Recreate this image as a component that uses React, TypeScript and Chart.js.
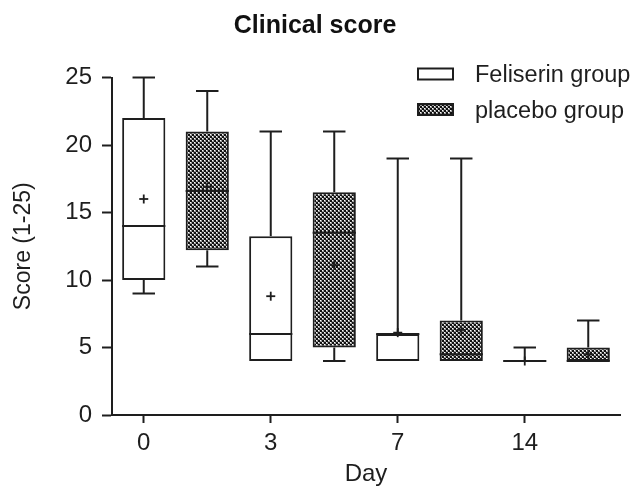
import React, { useEffect, useRef } from 'react';
import { Chart, registerables } from 'chart.js';

Chart.register(...registerables);

// ---- data ----
const days = ['0', '3', '7', '14'];
const groupNames = ['Feliserin group', 'placebo group'];

const feliserinMin = [9, 4, 4, 4];
const feliserinQ1 = [10, 4, 4, 4];
const feliserinMedian = [14, 6, 6, 4];
const feliserinQ3 = [22, 13.25, 6, 4];
const feliserinMax = [25, 21, 19, 5];
const feliserinMean = [16, 8.8, 6.1, 4];

const placeboMin = [11, 4, 4, 4];
const placeboQ1 = [12.2, 5, 4, 4];
const placeboMedian = [16.6, 13.5, 4.5, 4];
const placeboQ3 = [21, 16.5, 7, 5];
const placeboMax = [24, 21, 19, 7];
const placeboMean = [16.9, 11.1, 6.3, 4.5];

const yMin = 0;
const yMax = 25;
const yStep = 5;

const FONT = '"Liberation Sans", Arial, Helvetica, sans-serif';
const INK = '#1e1e1e';

function makePattern(): CanvasPattern | string {
  const c = document.createElement('canvas');
  c.width = 4;
  c.height = 4;
  const g = c.getContext('2d');
  if (!g) return '#555';
  g.fillStyle = '#111111';
  g.fillRect(0, 0, 4, 4);
  const dot = (px: number, py: number) => {
    g.fillStyle = '#9a9a9a';
    g.fillRect(px, py, 2, 2);
    g.fillStyle = '#ffffff';
    g.fillRect(px, py, 1, 1);
  };
  dot(0, 0);
  dot(2, 2);
  return g.createPattern(c, 'repeat') || '#555';
}

type Stat = { min: number; q1: number; med: number; q3: number; max: number; mean: number };

function statsFor(min: number[], q1: number[], med: number[], q3: number[], max: number[], mean: number[]): Stat[] {
  return min.map((_, i) => ({ min: min[i], q1: q1[i], med: med[i], q3: q3[i], max: max[i], mean: mean[i] }));
}

const boxPlugin = {
  id: 'boxWhiskers',
  afterDatasetsDraw(chart: any) {
    const { ctx } = chart;
    const y = chart.scales.y;
    ctx.save();
    ctx.strokeStyle = INK;
    ctx.lineCap = 'butt';
    chart.data.datasets.forEach((ds: any, d: number) => {
      const meta = chart.getDatasetMeta(d);
      (ds.boxStats as (Stat | null)[]).forEach((s, i) => {
        if (!s) return;
        const el = meta.data[i];
        if (!el) return;
        const { x, width } = el.getProps(['x', 'width'], true);
        const half = width / 2;
        const cap = width * 0.26;
        const line = (x1: number, y1: number, x2: number, y2: number, lw: number) => {
          ctx.lineWidth = lw;
          ctx.beginPath();
          ctx.moveTo(x1, y1);
          ctx.lineTo(x2, y2);
          ctx.stroke();
        };
        const pMax = y.getPixelForValue(s.max);
        const pQ3 = y.getPixelForValue(s.q3);
        const pQ1 = y.getPixelForValue(s.q1);
        const pMin = y.getPixelForValue(s.min);
        const pMed = y.getPixelForValue(s.med);
        const pMean = y.getPixelForValue(s.mean);
        if (s.max > s.q3) {
          line(x, pQ3, x, pMax, 2);
          line(x - cap, pMax, x + cap, pMax, 2);
        }
        if (s.min < s.q1) {
          line(x, pQ1, x, pMin, 2);
          line(x - cap, pMin, x + cap, pMin, 2);
        }
        line(x - half, pMed, x + half, pMed, 2);
        line(x - 4.5, pMean, x + 4.5, pMean, 1.8);
        line(x, pMean - 4.5, x, pMean + 4.5, 1.8);
      });
    });
    ctx.restore();
  },
};

const legendPlugin = {
  id: 'boxLegend',
  afterDraw(chart: any) {
    const { ctx, chartArea } = chart;
    ctx.save();
    chart.data.datasets.forEach((ds: any, i: number) => {
      const cy = chartArea.top - 3.5 + i * 35.5;
      const bx = chartArea.right - 202;
      const bw = 35;
      const bh = 11;
      ctx.fillStyle = ds.backgroundColor;
      ctx.fillRect(bx, cy - bh / 2, bw, bh);
      ctx.lineWidth = 2;
      ctx.strokeStyle = INK;
      ctx.strokeRect(bx, cy - bh / 2, bw, bh);
      ctx.fillStyle = INK;
      ctx.font = `23.5px ${FONT}`;
      ctx.textAlign = 'left';
      ctx.textBaseline = 'middle';
      ctx.fillText(ds.label, chartArea.right - 145, cy + 2);
    });
    ctx.restore();
  },
};

export default function App() {
  const ref = useRef<HTMLCanvasElement>(null);

  useEffect(() => {
    const canvas = ref.current;
    if (!canvas) return;
    const pattern = makePattern();

    const labels = days.flatMap((d) => [d, '']);
    const felStats = statsFor(feliserinMin, feliserinQ1, feliserinMedian, feliserinQ3, feliserinMax, feliserinMean);
    const plaStats = statsFor(placeboMin, placeboQ1, placeboMedian, placeboQ3, placeboMax, placeboMean);

    const felData = days.flatMap((_, i) => [[felStats[i].q1, felStats[i].q3], null]);
    const plaData = days.flatMap((_, i) => [null, [plaStats[i].q1, plaStats[i].q3]]);
    const felBox = days.flatMap((_, i) => [felStats[i], null]);
    const plaBox = days.flatMap((_, i) => [null, plaStats[i]]);

    const chart = new Chart(canvas, {
      type: 'bar',
      data: {
        labels,
        datasets: [
          {
            label: groupNames[0],
            data: felData as any,
            backgroundColor: '#ffffff',
            borderColor: INK,
            borderWidth: 2,
            borderSkipped: false,
            boxStats: felBox,
          } as any,
          {
            label: groupNames[1],
            data: plaData as any,
            backgroundColor: pattern as any,
            borderColor: INK,
            borderWidth: 2,
            borderSkipped: false,
            boxStats: plaBox,
          } as any,
        ],
      },
      options: {
        responsive: false,
        animation: false,
        devicePixelRatio: 1,
        layout: { padding: { left: 10, right: 15, top: 0, bottom: 0 } },
        datasets: {
          bar: { grouped: false, barPercentage: 0.68, categoryPercentage: 1 } as any,
        },
        plugins: {
          legend: { display: false },
          tooltip: { enabled: false },
          title: {
            display: true,
            text: 'Clinical score',
            color: '#111',
            font: { family: FONT, size: 25, weight: 'bold', lineHeight: 1.2 },
            padding: { top: 11, bottom: 36.5 },
          },
        },
        scales: {
          x: {
            type: 'category',
            offset: true,
            grid: {
              offset: false,
              drawOnChartArea: false,
              drawTicks: true,
              tickLength: 8,
              tickWidth: 2,
              tickColor: (c: any) => (c.index % 2 === 0 ? INK : 'rgba(0,0,0,0)'),
            },
            border: { display: true, color: INK, width: 2 },
            ticks: {
              autoSkip: false,
              maxRotation: 0,
              padding: 6,
              color: INK,
              font: { family: FONT, size: 24 },
            },
            title: {
              display: true,
              text: 'Day',
              color: INK,
              font: { family: FONT, size: 24, lineHeight: 1 },
              padding: { top: 0, bottom: 0 },
            },
            afterFit: (s: any) => {
              s.height = 71;
            },
          },
          y: {
            min: yMin,
            max: yMax,
            ticks: {
              stepSize: yStep,
              padding: 10,
              color: INK,
              font: { family: FONT, size: 24 },
            },
            grid: {
              drawOnChartArea: false,
              tickLength: 10,
              tickWidth: 2,
              tickColor: INK,
              color: INK,
            },
            border: { display: true, color: INK, width: 2 },
            title: {
              display: true,
              text: 'Score (1-25)',
              color: INK,
              font: { family: FONT, size: 23, lineHeight: 1.2 },
              padding: { top: 0, bottom: 0 },
            },
            afterFit: (s: any) => {
              s.width = 102;
            },
          },
        },
      } as any,
      plugins: [boxPlugin, legendPlugin],
    });

    return () => chart.destroy();
  }, []);

  return (
    <canvas
      ref={ref}
      width={635}
      height={486}
      style={{ position: 'fixed', left: 0, top: 0, width: '635px', height: '486px', background: '#fff' }}
    />
  );
}
